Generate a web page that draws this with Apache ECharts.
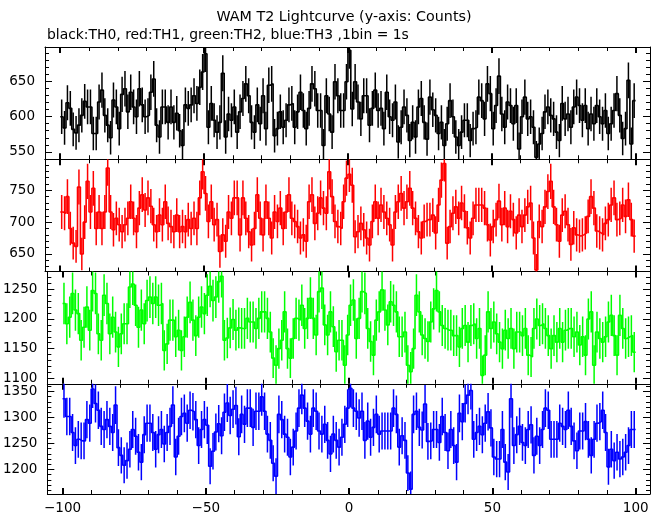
<!DOCTYPE html>
<html><head><meta charset="utf-8">
<script src="https://cdn.jsdelivr.net/npm/echarts@6/dist/echarts.min.js"></script>
<style>html,body{margin:0;padding:0;background:#fff}#c{width:662px;height:515px}</style>
</head><body><div id="c"></div>
<script>
// ---- data (counts per 1 s bin, bins from -100 s to +100 s) ----
const th0 = [
600,584,620,612,582,577,588,602,622,614,614,576,576,621,638,602,588,570,624,614,
583,632,640,607,635,614,600,640,617,600,602,635,654,588,571,614,614,592,614,592,
605,580,559,617,612,617,630,619,642,664,690,585,619,595,578,592,662,571,604,595,
614,578,607,626,647,630,592,578,617,590,630,583,645,647,573,583,607,585,595,617,
619,585,607,635,609,583,612,647,640,609,609,559,630,604,578,650,630,609,609,650,
695,611,650,621,597,630,630,588,612,638,609,612,583,635,600,595,621,564,585,614,
602,566,592,571,614,626,592,568,628,610,602,576,592,559,590,623,600,571,559,578,
595,595,566,583,585,628,623,597,647,633,583,616,658,604,585,621,616,590,616,554,
600,628,597,600,585,542,561,576,607,614,602,597,578,566,619,597,604,585,614,628,
616,595,616,583,604,590,616,600,590,609,576,590,609,633,602,569,583,652,561,623];
const th1 = [
716,714,740,690,667,662,755,650,700,764,716,753,690,716,690,716,785,716,688,706,
696,685,696,706,732,706,685,722,743,719,738,725,696,685,711,696,732,698,693,685,
711,685,693,685,704,690,706,690,738,779,745,701,732,696,704,654,680,670,716,706,
738,738,680,738,706,685,664,690,743,706,680,732,706,675,716,701,722,690,716,743,
706,701,693,675,680,670,732,743,698,714,738,722,714,779,740,701,693,690,732,769,
775,758,677,685,698,688,675,664,701,732,706,727,716,706,696,664,716,732,745,722,
732,753,722,706,685,675,701,704,704,711,683,727,766,792,667,693,714,724,706,730,
717,691,675,706,727,727,727,722,696,672,693,704,733,696,722,693,717,704,683,711,
693,711,724,730,675,625,701,693,724,748,764,724,696,670,711,717,696,665,691,680,
678,680,683,709,740,722,686,683,680,698,704,727,738,704,706,727,709,735,704,678];
const th2 = [
1226,1192,1203,1243,1215,1209,1164,1186,1220,1181,1248,1243,1175,1164,1240,1226,1175,1203,1178,1153,
1175,1192,1192,1254,1259,1223,1186,1215,1192,1231,1237,1226,1237,1223,1226,1147,1158,1198,1198,1170,
1181,1147,1170,1203,1228,1198,1172,1203,1220,1209,1240,1255,1231,1237,1263,1272,1164,1168,1185,1199,
1181,1185,1184,1184,1201,1195,1195,1184,1201,1212,1212,1201,1178,1134,1122,1150,1164,1212,1150,1134,
1167,1201,1198,1223,1184,1201,1235,1201,1173,1246,1252,1190,1173,1212,1187,1145,1164,1164,1122,1173,
1223,1232,1167,1201,1246,1243,1184,1162,1139,1198,1212,1249,1215,1190,1229,1223,1212,1170,1170,1178,
1122,1111,1150,1240,1212,1173,1167,1162,1195,1217,1248,1212,1189,1184,1181,1181,1172,1172,1153,1184,
1189,1161,1189,1192,1167,1184,1105,1139,1212,1184,1195,1175,1161,1150,1181,1167,1184,1150,1178,1178,
1172,1184,1139,1136,1184,1200,1189,1192,1184,1172,1150,1172,1161,1184,1161,1181,1184,1184,1170,1178,
1156,1170,1139,1200,1212,1122,1178,1167,1161,1170,1195,1206,1172,1139,1206,1184,1167,1170,1172,1144];
const th3 = [
1336,1302,1302,1271,1246,1258,1255,1255,1296,1289,1355,1327,1314,1283,1277,1296,1283,1271,1324,1242,
1227,1208,1217,1239,1277,1264,1233,1214,1267,1289,1289,1271,1239,1267,1277,1249,1271,1283,1324,1224,
1264,1302,1308,1289,1314,1311,1296,1246,1277,1296,1285,1206,1235,1272,1288,1265,1310,1328,1304,1316,
1323,1263,1306,1287,1318,1318,1281,1312,1312,1340,1312,1268,1256,1212,1187,1306,1296,1268,1262,1224,
1243,1274,1318,1343,1318,1293,1268,1318,1312,1274,1268,1287,1256,1230,1268,1256,1243,1262,1287,1318,
1356,1318,1312,1299,1312,1256,1293,1262,1281,1306,1268,1274,1274,1274,1274,1318,1306,1243,1265,1256,
1193,1162,1306,1312,1281,1276,1326,1254,1255,1277,1277,1252,1302,1271,1236,1277,1246,1214,1308,1292,
1327,1343,1352,1258,1271,1283,1267,1289,1311,1280,1224,1220,1220,1277,1214,1195,1336,1246,1267,1283,
1252,1246,1277,1286,1227,1264,1246,1277,1318,1314,1258,1258,1258,1289,1283,1277,1314,1283,1255,1236,
1274,1274,1292,1258,1227,1258,1289,1292,1314,1271,1205,1239,1217,1233,1220,1224,1233,1246,1277,1277];
const binStart = -100;     // left edge of first bin (s)
const binWidth = 1;        // 1 bin = 1 s

// ---- axes / text ----
const xTicks = [-100, -50, 0, 50, 100];
const xRange = [-105.3, 105];
const yTicks = [[550, 600, 650], [650, 700, 750], [1100, 1150, 1200, 1250], [1200, 1250, 1300, 1350]];
const yRanges = [[539.3, 699.6], [622.5, 798.7], [1090.8, 1280], [1152.7, 1365]];
const colors = ['#000000', '#ff0000', '#00ff00', '#0000ff'];
const titleText = 'WAM T2 Lightcurve (y-axis: Counts)';
const subText = 'black:TH0, red:TH1, green:TH2, blue:TH3 ,1bin = 1s';
const panels = [th0, th1, th2, th3];

const FONT = 'DejaVu Sans';
function minorList(lo, hi, step, majors) {
  const out = [];
  for (let v = Math.ceil(lo / step) * step; v <= hi; v += step) if (majors.indexOf(v) < 0) out.push(v);
  return out;
}
const xMinor = minorList(-100, 100, 10, xTicks);

const grids = [], xAxes = [], yAxes = [], series = [];
const gTop = 47, gH = 112.25;
for (let k = 0; k < 4; k++) {
  grids.push({ left: 45, right: 12, top: gTop + k * gH, height: gH });
  const baseX = { type: 'value', gridIndex: k, min: xRange[0], max: xRange[1], splitLine: { show: false } };
  const isLast = k === 3;
  xAxes.push(Object.assign({}, baseX, { position: 'bottom',
    axisLine: { show: true, onZero: false, lineStyle: { color: '#000', width: 1 } },
    axisTick: { show: true, inside: true, length: 6, customValues: xTicks, lineStyle: { color: '#000', width: 2 } },
    axisLabel: { show: isLast, customValues: xTicks, margin: 7, color: '#000', fontFamily: FONT, fontSize: 13.5,
      formatter: v => String(v).replace('-', '\u2212') } }));
  xAxes.push(Object.assign({}, baseX, { position: 'bottom',
    axisLine: { show: false, onZero: false },
    axisTick: { show: true, inside: true, length: 4, customValues: xMinor, lineStyle: { color: '#000', width: 1 } },
    axisLabel: { show: false } }));
  xAxes.push(Object.assign({}, baseX, { position: 'top',
    axisLine: { show: true, onZero: false, lineStyle: { color: '#000', width: 1 } },
    axisTick: { show: true, inside: true, length: 6, customValues: xTicks, lineStyle: { color: '#000', width: 2 } },
    axisLabel: { show: false } }));
  xAxes.push(Object.assign({}, baseX, { position: 'top',
    axisLine: { show: false, onZero: false },
    axisTick: { show: true, inside: true, length: 4, customValues: xMinor, lineStyle: { color: '#000', width: 1 } },
    axisLabel: { show: false } }));

  const yr = yRanges[k], yt = yTicks[k];
  const yMinor = minorList(yr[0], yr[1], 10, yt);
  const baseY = { type: 'value', gridIndex: k, min: yr[0], max: yr[1], splitLine: { show: false } };
  yAxes.push(Object.assign({}, baseY, { position: 'left',
    axisLine: { show: true, onZero: false, lineStyle: { color: '#000', width: 1 } },
    axisTick: { show: true, inside: true, length: 7, customValues: yt, lineStyle: { color: '#000', width: 1 } },
    axisLabel: { show: true, customValues: yt, margin: 10, color: '#000', fontFamily: FONT, fontSize: 13.5,
      formatter: v => String(v) } }));
  yAxes.push(Object.assign({}, baseY, { position: 'left',
    axisLine: { show: false, onZero: false },
    axisTick: { show: true, inside: true, length: 4, customValues: yMinor, lineStyle: { color: '#000', width: 1 } },
    axisLabel: { show: false } }));
  yAxes.push(Object.assign({}, baseY, { position: 'right',
    axisLine: { show: true, onZero: false, lineStyle: { color: '#000', width: 1 } },
    axisTick: { show: true, inside: true, length: 7, customValues: yt, lineStyle: { color: '#000', width: 1 } },
    axisLabel: { show: false } }));
  yAxes.push(Object.assign({}, baseY, { position: 'right',
    axisLine: { show: false, onZero: false },
    axisTick: { show: true, inside: true, length: 4, customValues: yMinor, lineStyle: { color: '#000', width: 1 } },
    axisLabel: { show: false } }));

  const vals = panels[k];
  const stepData = vals.map((v, i) => [binStart + i * binWidth, v]);
  stepData.push([binStart + vals.length * binWidth, vals[vals.length - 1]]);
  const errData = vals.map((v, i) => [binStart + (i + 0.5) * binWidth, v, Math.sqrt(v)]);
  const col = colors[k];
  series.push({ type: 'line', xAxisIndex: 4 * k, yAxisIndex: 4 * k, data: stepData, step: 'end',
    showSymbol: false, symbol: 'none', clip: true, lineStyle: { color: col, width: 1.6 }, z: 3 });
  series.push({ type: 'custom', xAxisIndex: 4 * k, yAxisIndex: 4 * k, data: errData, clip: true, z: 3,
    renderItem: function (params, api) {
      const x = api.value(0), v = api.value(1), e = api.value(2);
      const p1 = api.coord([x, v - e]), p2 = api.coord([x, v + e]);
      return { type: 'line', shape: { x1: p1[0], y1: p1[1], x2: p2[0], y2: p2[1] },
        style: { stroke: col, lineWidth: 1.5 } };
    } });
}

const chart = echarts.init(document.getElementById('c'), null, { renderer: 'canvas' });
chart.setOption({
  animation: false,
  backgroundColor: '#fff',
  grid: grids, xAxis: xAxes, yAxis: yAxes, series: series,
  graphic: [
    { type: 'text', x: 344, y: 17, style: { text: titleText, x: 0, y: 0, fill: '#000',
      font: '14.3px "' + FONT + '"', textAlign: 'center', textVerticalAlign: 'middle', align: 'center', verticalAlign: 'middle' } },
    { type: 'text', x: 47, y: 35, style: { text: subText, x: 0, y: 0, fill: '#000',
      font: '13.9px "' + FONT + '"', textAlign: 'left', textVerticalAlign: 'middle', align: 'left', verticalAlign: 'middle' } }
  ]
});
</script></body></html>
